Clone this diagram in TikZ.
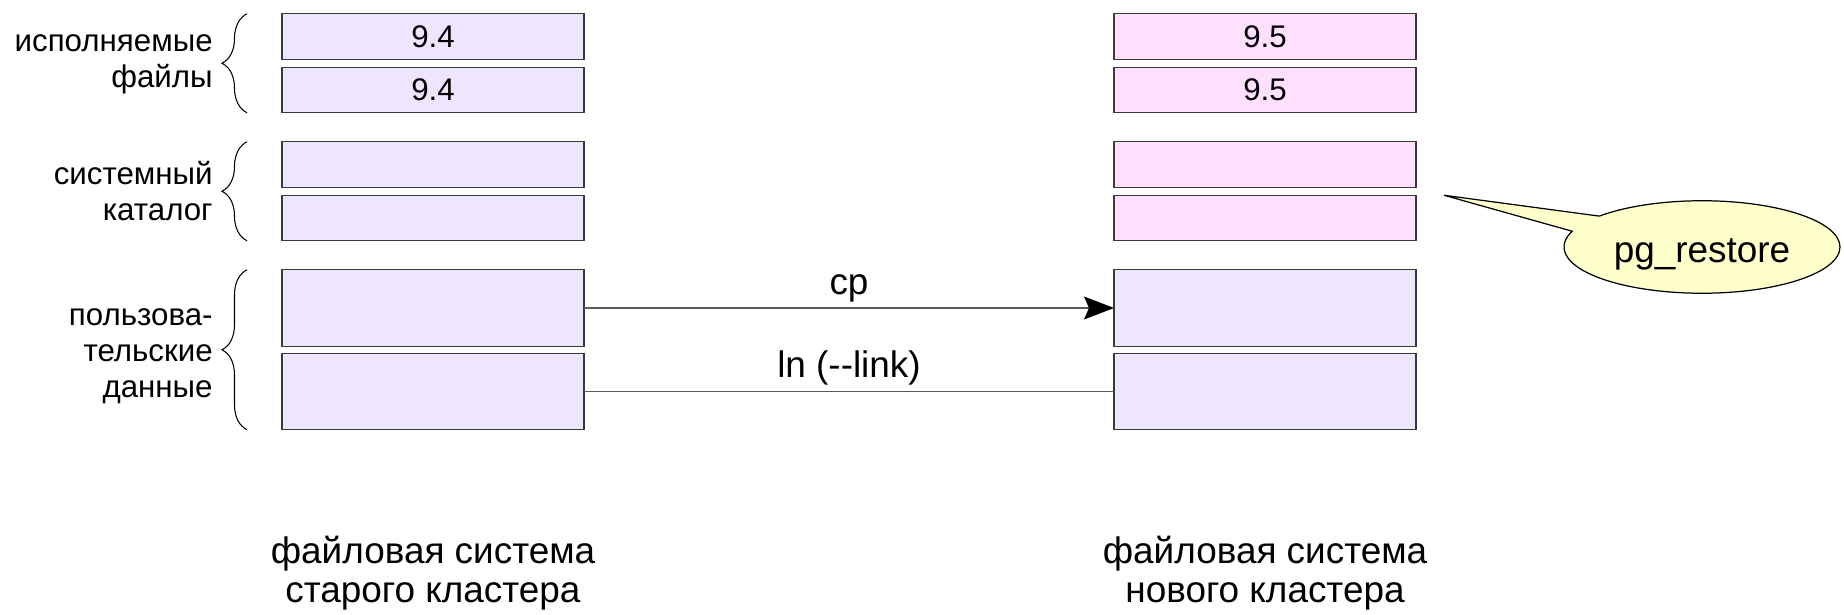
\documentclass[tikz,border=0pt]{standalone}
\usepackage{fontspec}
\setmainfont{Liberation Sans}
\usepackage{xcolor}
\usetikzlibrary{arrows.meta,positioning,calc,decorations.pathreplacing,shapes.callouts}

\definecolor{oldfill}{HTML}{EEE6FF}
\definecolor{newfill}{HTML}{FFE0FF}
\definecolor{notefill}{HTML}{FFFFCC}
\definecolor{boxline}{HTML}{3A3A3A}
\definecolor{linkline}{HTML}{5A5A5A}

\begin{document}
\begin{tikzpicture}[
  font=\fontsize{17.8}{20.5}\selectfont,
  big/.style={font=\fontsize{21}{22}\selectfont},
  cell/.style={draw=boxline,line width=0.8pt,inner sep=0pt,outer sep=0pt,minimum width=6.04cm,minimum height=0.91cm},
  bigcell/.style={cell,minimum height=1.53cm},
  grp/.style={draw=black,line width=0.6pt,decorate,decoration={brace,amplitude=0.5cm}},
  grplbl/.style={anchor=east,align=right,inner sep=0pt},
  fslbl/.style={big,align=center,inner sep=0pt},
  elbl/.style={big,anchor=base,yshift=0.28cm,inner sep=0pt},
  arr/.style={draw=linkline,line width=0.75pt,-{Stealth[length=0.6cm,width=0.46cm,inset=0.1cm,color=black]}},
  lnk/.style={draw=linkline,line width=0.75pt}
]
\useasboundingbox (0,0) rectangle (36.88,-12.30);

% old cluster
\node[cell,fill=oldfill] (l1) at (8.66,-0.73) {9.4};
\node[cell,fill=oldfill,below=0.16cm of l1] (l2) {9.4};
\node[cell,fill=oldfill,below=0.58cm of l2] (l3) {};
\node[cell,fill=oldfill,below=0.16cm of l3] (l4) {};
\node[bigcell,fill=oldfill,below=0.58cm of l4] (l5) {};
\node[bigcell,fill=oldfill,below=0.14cm of l5] (l6) {};

% new cluster
\node[cell,fill=newfill,right=10.6cm of l1] (r1) {9.5};
\node[cell,fill=newfill,right=10.6cm of l2] (r2) {9.5};
\node[cell,fill=newfill,right=10.6cm of l3] (r3) {};
\node[cell,fill=newfill,right=10.6cm of l4] (r4) {};
\node[bigcell,fill=oldfill,right=10.6cm of l5] (r5) {};
\node[bigcell,fill=oldfill,right=10.6cm of l6] (r6) {};

% groups on the left
\coordinate (g1) at ($(l1.south west)!0.5!(l2.north west)$);
\coordinate (g2) at ($(l3.south west)!0.5!(l4.north west)$);
\coordinate (g3) at ($(l5.south west)!0.5!(l6.north west)$);
\draw[grp] ([xshift=-0.7cm]l2.south west) -- ([xshift=-0.7cm]l1.north west);
\draw[grp] ([xshift=-0.7cm]l4.south west) -- ([xshift=-0.7cm]l3.north west);
\draw[grp] ([xshift=-0.7cm]l6.south west) -- ([xshift=-0.7cm]l5.north west);
\node[grplbl,left=1.38cm of g1,yshift=-0.02cm] (exe) {исполняемые\\файлы};
\node[grplbl,left=1.38cm of g2] (cat) {системный\\каталог};
\node[grplbl,left=1.38cm of g3,yshift=-0.13cm] (usr) {пользова-\\тельские\\данные};

% copy and link
\draw[arr] (l5) -- node[elbl] {cp} (r5);
\draw[lnk] (l6) -- node[elbl] {ln (-\kern0pt-link)} (r6);

% catalog is restored
\coordinate[right=0.56cm of r4.north east] (tip);
\node[ellipse callout,big,draw=black,line width=0.7pt,fill=notefill,minimum width=5.52cm,minimum height=1.85cm,
  text height=0.78cm,text depth=0.16cm,callout absolute pointer={(tip)},callout pointer arc=22] (rest) at (34.04,-4.94) {pg\_restore};

% file systems
\node[fslbl,below=2.12cm of l6] (oldfs) {файловая система\\старого кластера};
\node[fslbl,below=2.12cm of r6] (newfs) {файловая система\\нового кластера};
\end{tikzpicture}
\end{document}
